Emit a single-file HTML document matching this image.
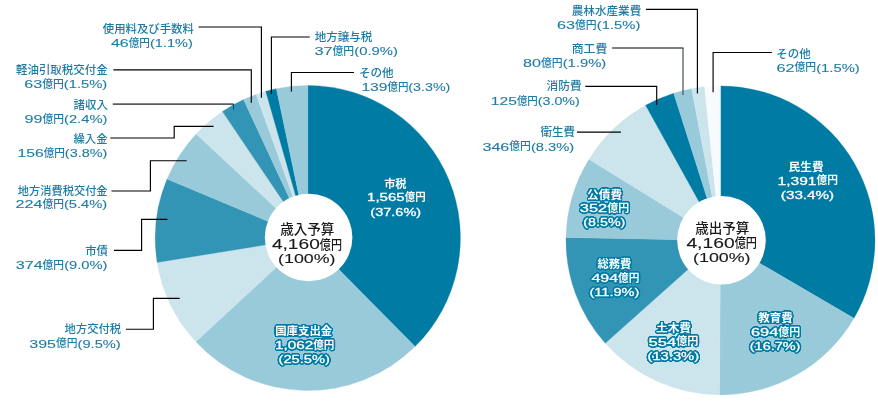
<!DOCTYPE html>
<html lang="ja"><head><meta charset="utf-8"><title>予算</title>
<style>
html,body{margin:0;padding:0;background:#fff;}
svg{display:block;font-family:"Liberation Sans", "Noto Sans CJK JP", sans-serif;font-size:11.5px;font-weight:500;}
</style></head><body>
<svg width="878" height="401" viewBox="0 0 878 401">
<defs><filter id="ol" x="-10%" y="-30%" width="120%" height="160%" color-interpolation-filters="sRGB">
<feGaussianBlur in="SourceAlpha" stdDeviation="1.0" result="b"/>
<feComponentTransfer in="b" result="t"><feFuncA type="linear" slope="30" intercept="-1.2"/></feComponentTransfer>
<feFlood flood-color="#007BA3" result="f"/><feComposite in="f" in2="t" operator="in" result="o"/>
<feMerge><feMergeNode in="o"/><feMergeNode in="SourceGraphic"/></feMerge></filter></defs>
<rect width="878" height="401" fill="#fff"/>
<path d="M307.80,238.00L307.80,85.40A152.60,152.60 0 0 1 415.02,346.58Z" fill="#007BA3" stroke="#007BA3" stroke-width="0.3"/>
<path d="M307.80,238.00L415.02,346.58A152.60,152.60 0 0 1 195.91,341.76Z" fill="#99CADA" stroke="#99CADA" stroke-width="0.3"/>
<path d="M307.80,238.00L195.91,341.76A152.60,152.60 0 0 1 157.16,262.40Z" fill="#CCE5ED" stroke="#CCE5ED" stroke-width="0.3"/>
<path d="M307.80,238.00L157.16,262.40A152.60,152.60 0 0 1 167.02,179.11Z" fill="#3395B5" stroke="#3395B5" stroke-width="0.3"/>
<path d="M307.80,238.00L167.02,179.11A152.60,152.60 0 0 1 196.20,133.93Z" fill="#99CADA" stroke="#99CADA" stroke-width="0.3"/>
<path d="M307.80,238.00L196.20,133.93A152.60,152.60 0 0 1 222.47,111.49Z" fill="#CCE5ED" stroke="#CCE5ED" stroke-width="0.3"/>
<path d="M307.80,238.00L222.47,111.49A152.60,152.60 0 0 1 243.55,99.59Z" fill="#3395B5" stroke="#3395B5" stroke-width="0.3"/>
<path d="M307.80,238.00L243.55,99.59A152.60,152.60 0 0 1 256.11,94.42Z" fill="#99CADA" stroke="#99CADA" stroke-width="0.3"/>
<path d="M307.80,238.00L256.11,94.42A152.60,152.60 0 0 1 265.74,91.31Z" fill="#CCE5ED" stroke="#CCE5ED" stroke-width="0.3"/>
<path d="M307.80,238.00L265.74,91.31A152.60,152.60 0 0 1 276.39,88.67Z" fill="#007BA3" stroke="#007BA3" stroke-width="0.3"/>
<path d="M307.80,238.00L276.39,88.67A152.60,152.60 0 0 1 307.80,85.40Z" fill="#99CADA" stroke="#99CADA" stroke-width="0.3"/>
<circle cx="308.6" cy="237.5" r="43.8" fill="#fff"/>
<path d="M720.50,240.40L720.50,85.90A154.50,154.50 0 0 1 853.98,318.21Z" fill="#007BA3" stroke="#007BA3" stroke-width="0.3"/>
<path d="M720.50,240.40L853.98,318.21A154.50,154.50 0 0 1 719.53,394.90Z" fill="#99CADA" stroke="#99CADA" stroke-width="0.3"/>
<path d="M720.50,240.40L719.53,394.90A154.50,154.50 0 0 1 605.25,343.30Z" fill="#CCE5ED" stroke="#CCE5ED" stroke-width="0.3"/>
<path d="M720.50,240.40L605.25,343.30A154.50,154.50 0 0 1 566.03,237.49Z" fill="#3395B5" stroke="#3395B5" stroke-width="0.3"/>
<path d="M720.50,240.40L566.03,237.49A154.50,154.50 0 0 1 589.02,159.26Z" fill="#99CADA" stroke="#99CADA" stroke-width="0.3"/>
<path d="M720.50,240.40L589.02,159.26A154.50,154.50 0 0 1 645.60,105.27Z" fill="#CCE5ED" stroke="#CCE5ED" stroke-width="0.3"/>
<path d="M720.50,240.40L645.60,105.27A154.50,154.50 0 0 1 673.68,93.16Z" fill="#007BA3" stroke="#007BA3" stroke-width="0.3"/>
<path d="M720.50,240.40L673.68,93.16A154.50,154.50 0 0 1 691.55,88.64Z" fill="#99CADA" stroke="#99CADA" stroke-width="0.3"/>
<path d="M720.50,240.40L691.55,88.64A154.50,154.50 0 0 1 704.62,86.72Z" fill="#CCE5ED" stroke="#CCE5ED" stroke-width="0.3"/>
<path d="M720.50,240.40L704.62,86.72A154.50,154.50 0 0 1 720.50,85.90Z" fill="#F8FBFD" stroke="#F8FBFD" stroke-width="0.3"/>
<circle cx="721.5" cy="240.3" r="44.3" fill="#fff"/>
<polyline points="198.5,27 261.4,27 261.4,97.7" fill="none" stroke="#000" stroke-width="1.15"/>
<polyline points="113.4,69.8 251.3,69.8 251.3,102.7" fill="none" stroke="#000" stroke-width="1.15"/>
<polyline points="112.8,104.1 233.5,104.1" fill="none" stroke="#5c5c5c" stroke-width="1.7"/>
<polyline points="233.5,103.8 233.5,109.5" fill="none" stroke="#0b4d68" stroke-width="1.1"/>
<polyline points="110.3,138.0 174.2,138.0 174.2,126.3 213.5,126.3" fill="none" stroke="#000" stroke-width="1.15"/>
<polyline points="111.5,191.0 150.4,191.0 150.4,160.7 186.7,160.7" fill="none" stroke="#000" stroke-width="1.15"/>
<polyline points="114,250.3 141.6,250.3 141.6,219.4 167.4,219.4" fill="none" stroke="#000" stroke-width="1.15"/>
<polyline points="125.9,329.2 153.4,329.2 153.4,298.3 179.7,298.3" fill="none" stroke="#000" stroke-width="1.15"/>
<polyline points="309.8,37 271.4,37 271.4,94" fill="none" stroke="#000" stroke-width="1.15"/>
<polyline points="354,72.5 291.4,72.5 291.4,91.5" fill="none" stroke="#000" stroke-width="1.15"/>
<polyline points="645.9,9.4 697.4,9.4 697.4,93.5" fill="none" stroke="#000" stroke-width="1.15"/>
<polyline points="612.1,48.0 683.5,48.0" fill="none" stroke="#000" stroke-width="1.15"/>
<polyline points="683,48.0 683,95" fill="none" stroke="#4d5f66" stroke-width="1.3"/>
<polyline points="585.3,86.4 656.7,86.4 656.7,105" fill="none" stroke="#000" stroke-width="1.15"/>
<polyline points="577,132.1 620.9,132.1" fill="none" stroke="#000" stroke-width="1.15"/>
<polyline points="771.9,52.5 713.1,52.5 713.1,92.3" fill="none" stroke="#000" stroke-width="1.15"/>
<text x="102.80" y="32.75" font-size="11.4" textLength="91.10" lengthAdjust="spacingAndGlyphs" fill="#1E7BA4" font-weight="500">使用料及び手数料</text>
<text fill="#1E7BA4" font-weight="500"><tspan x="111.00" y="47.00" font-size="11.5" textLength="17.73" lengthAdjust="spacingAndGlyphs" stroke="#1E7BA4" stroke-width="0.1">46</tspan><tspan x="128.72" y="46.70" font-size="11.2" textLength="21.31" lengthAdjust="spacingAndGlyphs">億円</tspan><tspan x="150.03" y="47.00" font-size="11.5" textLength="42.82" lengthAdjust="spacingAndGlyphs" stroke="#1E7BA4" stroke-width="0.1">(1.1%)</tspan></text>
<text x="16.00" y="73.85" font-size="11.4" textLength="91.60" lengthAdjust="spacingAndGlyphs" fill="#1E7BA4" font-weight="500">軽油引取税交付金</text>
<text fill="#1E7BA4" font-weight="500"><tspan x="24.19" y="88.10" font-size="11.5" textLength="17.99" lengthAdjust="spacingAndGlyphs" stroke="#1E7BA4" stroke-width="0.1">63</tspan><tspan x="42.18" y="87.80" font-size="11.2" textLength="21.63" lengthAdjust="spacingAndGlyphs">億円</tspan><tspan x="63.81" y="88.10" font-size="11.5" textLength="43.45" lengthAdjust="spacingAndGlyphs" stroke="#1E7BA4" stroke-width="0.1">(1.5%)</tspan></text>
<text x="73.60" y="108.65" font-size="11.4" textLength="34.40" lengthAdjust="spacingAndGlyphs" fill="#1E7BA4" font-weight="500">諸収入</text>
<text fill="#1E7BA4" font-weight="500"><tspan x="24.44" y="122.80" font-size="11.5" textLength="17.98" lengthAdjust="spacingAndGlyphs" stroke="#1E7BA4" stroke-width="0.1">99</tspan><tspan x="42.42" y="122.50" font-size="11.2" textLength="21.61" lengthAdjust="spacingAndGlyphs">億円</tspan><tspan x="64.03" y="122.80" font-size="11.5" textLength="43.43" lengthAdjust="spacingAndGlyphs" stroke="#1E7BA4" stroke-width="0.1">(2.4%)</tspan></text>
<text x="73.40" y="142.65" font-size="11.4" textLength="34.20" lengthAdjust="spacingAndGlyphs" fill="#1E7BA4" font-weight="500">繰入金</text>
<text fill="#1E7BA4" font-weight="500"><tspan x="17.43" y="156.80" font-size="11.5" textLength="26.33" lengthAdjust="spacingAndGlyphs" stroke="#1E7BA4" stroke-width="0.1">156</tspan><tspan x="43.76" y="156.50" font-size="11.2" textLength="21.10" lengthAdjust="spacingAndGlyphs">億円</tspan><tspan x="64.86" y="156.80" font-size="11.5" textLength="42.40" lengthAdjust="spacingAndGlyphs" stroke="#1E7BA4" stroke-width="0.1">(3.8%)</tspan></text>
<text x="17.80" y="195.25" font-size="11.4" textLength="89.80" lengthAdjust="spacingAndGlyphs" fill="#1E7BA4" font-weight="500">地方消費税交付金</text>
<text fill="#1E7BA4" font-weight="500"><tspan x="15.49" y="208.20" font-size="11.5" textLength="26.90" lengthAdjust="spacingAndGlyphs" stroke="#1E7BA4" stroke-width="0.1">224</tspan><tspan x="42.39" y="207.90" font-size="11.2" textLength="21.56" lengthAdjust="spacingAndGlyphs">億円</tspan><tspan x="63.94" y="208.20" font-size="11.5" textLength="43.32" lengthAdjust="spacingAndGlyphs" stroke="#1E7BA4" stroke-width="0.1">(5.4%)</tspan></text>
<text x="85.24" y="255.15" font-size="11.4" textLength="22.77" lengthAdjust="spacingAndGlyphs" fill="#1E7BA4" font-weight="500">市債</text>
<text fill="#1E7BA4" font-weight="500"><tspan x="15.74" y="269.10" font-size="11.5" textLength="26.88" lengthAdjust="spacingAndGlyphs" stroke="#1E7BA4" stroke-width="0.1">374</tspan><tspan x="42.62" y="268.80" font-size="11.2" textLength="21.54" lengthAdjust="spacingAndGlyphs">億円</tspan><tspan x="64.17" y="269.10" font-size="11.5" textLength="43.29" lengthAdjust="spacingAndGlyphs" stroke="#1E7BA4" stroke-width="0.1">(9.0%)</tspan></text>
<text x="64.60" y="333.45" font-size="11.4" textLength="56.55" lengthAdjust="spacingAndGlyphs" fill="#1E7BA4" font-weight="500">地方交付税</text>
<text fill="#1E7BA4" font-weight="500"><tspan x="29.24" y="347.60" font-size="11.5" textLength="26.82" lengthAdjust="spacingAndGlyphs" stroke="#1E7BA4" stroke-width="0.1">395</tspan><tspan x="56.06" y="347.30" font-size="11.2" textLength="21.50" lengthAdjust="spacingAndGlyphs">億円</tspan><tspan x="77.56" y="347.60" font-size="11.5" textLength="43.20" lengthAdjust="spacingAndGlyphs" stroke="#1E7BA4" stroke-width="0.1">(9.5%)</tspan></text>
<text x="314.70" y="41.00" font-size="11.4" textLength="57.65" lengthAdjust="spacingAndGlyphs" fill="#1E7BA4" font-weight="500">地方譲与税</text>
<text fill="#1E7BA4" font-weight="500"><tspan x="314.45" y="55.20" font-size="11.5" textLength="18.06" lengthAdjust="spacingAndGlyphs" stroke="#1E7BA4" stroke-width="0.1">37</tspan><tspan x="332.51" y="54.90" font-size="11.2" textLength="21.72" lengthAdjust="spacingAndGlyphs">億円</tspan><tspan x="354.22" y="55.20" font-size="11.5" textLength="43.63" lengthAdjust="spacingAndGlyphs" stroke="#1E7BA4" stroke-width="0.1">(0.9%)</tspan></text>
<text x="358.93" y="77.00" font-size="11.4" textLength="34.79" lengthAdjust="spacingAndGlyphs" fill="#1E7BA4" font-weight="500">その他</text>
<text fill="#1E7BA4" font-weight="500"><tspan x="361.44" y="90.80" font-size="11.5" textLength="26.06" lengthAdjust="spacingAndGlyphs" stroke="#1E7BA4" stroke-width="0.1">139</tspan><tspan x="387.50" y="90.50" font-size="11.2" textLength="20.89" lengthAdjust="spacingAndGlyphs">億円</tspan><tspan x="408.39" y="90.80" font-size="11.5" textLength="41.97" lengthAdjust="spacingAndGlyphs" stroke="#1E7BA4" stroke-width="0.1">(3.3%)</tspan></text>
<text x="571.74" y="14.65" font-size="11.4" textLength="69.51" lengthAdjust="spacingAndGlyphs" fill="#1E7BA4" font-weight="500">農林水産業費</text>
<text fill="#1E7BA4" font-weight="500"><tspan x="556.99" y="29.10" font-size="11.5" textLength="18.05" lengthAdjust="spacingAndGlyphs" stroke="#1E7BA4" stroke-width="0.1">63</tspan><tspan x="575.04" y="28.80" font-size="11.2" textLength="21.70" lengthAdjust="spacingAndGlyphs">億円</tspan><tspan x="596.75" y="29.10" font-size="11.5" textLength="43.61" lengthAdjust="spacingAndGlyphs" stroke="#1E7BA4" stroke-width="0.1">(1.5%)</tspan></text>
<text x="571.78" y="52.75" font-size="11.4" textLength="35.49" lengthAdjust="spacingAndGlyphs" fill="#1E7BA4" font-weight="500">商工費</text>
<text fill="#1E7BA4" font-weight="500"><tspan x="522.94" y="67.10" font-size="11.5" textLength="18.04" lengthAdjust="spacingAndGlyphs" stroke="#1E7BA4" stroke-width="0.1">80</tspan><tspan x="540.98" y="66.80" font-size="11.2" textLength="21.69" lengthAdjust="spacingAndGlyphs">億円</tspan><tspan x="562.67" y="67.10" font-size="11.5" textLength="43.58" lengthAdjust="spacingAndGlyphs" stroke="#1E7BA4" stroke-width="0.1">(1.9%)</tspan></text>
<text x="546.44" y="90.45" font-size="11.4" textLength="35.22" lengthAdjust="spacingAndGlyphs" fill="#1E7BA4" font-weight="500">消防費</text>
<text fill="#1E7BA4" font-weight="500"><tspan x="490.83" y="105.10" font-size="11.5" textLength="26.06" lengthAdjust="spacingAndGlyphs" stroke="#1E7BA4" stroke-width="0.1">125</tspan><tspan x="516.90" y="104.80" font-size="11.2" textLength="20.89" lengthAdjust="spacingAndGlyphs">億円</tspan><tspan x="537.79" y="105.10" font-size="11.5" textLength="41.97" lengthAdjust="spacingAndGlyphs" stroke="#1E7BA4" stroke-width="0.1">(3.0%)</tspan></text>
<text x="540.40" y="136.45" font-size="11.4" textLength="34.86" lengthAdjust="spacingAndGlyphs" fill="#1E7BA4" font-weight="500">衛生費</text>
<text fill="#1E7BA4" font-weight="500"><tspan x="482.45" y="150.70" font-size="11.5" textLength="26.91" lengthAdjust="spacingAndGlyphs" stroke="#1E7BA4" stroke-width="0.1">346</tspan><tspan x="509.35" y="150.40" font-size="11.2" textLength="21.57" lengthAdjust="spacingAndGlyphs">億円</tspan><tspan x="530.92" y="150.70" font-size="11.5" textLength="43.34" lengthAdjust="spacingAndGlyphs" stroke="#1E7BA4" stroke-width="0.1">(8.3%)</tspan></text>
<text x="776.23" y="57.75" font-size="11.4" textLength="34.38" lengthAdjust="spacingAndGlyphs" fill="#1E7BA4" font-weight="500">その他</text>
<text fill="#1E7BA4" font-weight="500"><tspan x="776.49" y="71.60" font-size="11.5" textLength="18.03" lengthAdjust="spacingAndGlyphs" stroke="#1E7BA4" stroke-width="0.1">62</tspan><tspan x="794.52" y="71.30" font-size="11.2" textLength="21.68" lengthAdjust="spacingAndGlyphs">億円</tspan><tspan x="816.20" y="71.60" font-size="11.5" textLength="43.56" lengthAdjust="spacingAndGlyphs" stroke="#1E7BA4" stroke-width="0.1">(1.5%)</tspan></text>
<text x="384.15" y="187.65" font-size="11.4" textLength="22.41" lengthAdjust="spacingAndGlyphs" fill="#fff" filter="url(#ol)" font-weight="700">市税</text>
<text fill="#fff" filter="url(#ol)" font-weight="700"><tspan x="367.02" y="201.20" font-size="11.5" textLength="37.74" lengthAdjust="spacingAndGlyphs" font-weight="400" stroke="#fff" stroke-width="0.3">1,565</tspan><tspan x="404.76" y="200.90" font-size="11.2" textLength="20.81" lengthAdjust="spacingAndGlyphs">億円</tspan></text>
<text x="370.38" y="215.50" font-size="11.5" textLength="50.79" lengthAdjust="spacingAndGlyphs" fill="#fff" filter="url(#ol)" font-weight="400" stroke="#fff" stroke-width="0.3">(37.6%)</text>
<text x="275.20" y="335.35" font-size="11.4" textLength="57.06" lengthAdjust="spacingAndGlyphs" fill="#fff" filter="url(#ol)" font-weight="700">国庫支出金</text>
<text fill="#fff" filter="url(#ol)" font-weight="700"><tspan x="274.93" y="348.90" font-size="11.5" textLength="38.24" lengthAdjust="spacingAndGlyphs" font-weight="400" stroke="#fff" stroke-width="0.3">1,062</tspan><tspan x="313.17" y="348.60" font-size="11.2" textLength="21.09" lengthAdjust="spacingAndGlyphs">億円</tspan></text>
<text x="278.58" y="363.10" font-size="11.5" textLength="51.28" lengthAdjust="spacingAndGlyphs" fill="#fff" filter="url(#ol)" font-weight="400" stroke="#fff" stroke-width="0.3">(25.5%)</text>
<text x="788.64" y="171.15" font-size="11.4" textLength="34.93" lengthAdjust="spacingAndGlyphs" fill="#fff" filter="url(#ol)" font-weight="700">民生費</text>
<text fill="#fff" filter="url(#ol)" font-weight="700"><tspan x="777.53" y="184.60" font-size="11.5" textLength="38.96" lengthAdjust="spacingAndGlyphs" font-weight="400" stroke="#fff" stroke-width="0.3">1,391</tspan><tspan x="816.48" y="184.30" font-size="11.2" textLength="21.48" lengthAdjust="spacingAndGlyphs">億円</tspan></text>
<text x="780.88" y="198.70" font-size="11.5" textLength="53.29" lengthAdjust="spacingAndGlyphs" fill="#fff" filter="url(#ol)" font-weight="400" stroke="#fff" stroke-width="0.3">(33.4%)</text>
<text x="587.14" y="198.85" font-size="11.4" textLength="34.93" lengthAdjust="spacingAndGlyphs" fill="#fff" filter="url(#ol)" font-weight="700">公債費</text>
<text fill="#fff" filter="url(#ol)" font-weight="700"><tspan x="579.74" y="212.40" font-size="11.5" textLength="27.44" lengthAdjust="spacingAndGlyphs" font-weight="400" stroke="#fff" stroke-width="0.3">352</tspan><tspan x="607.17" y="212.10" font-size="11.2" textLength="21.99" lengthAdjust="spacingAndGlyphs">億円</tspan></text>
<text x="583.38" y="226.40" font-size="11.5" textLength="41.99" lengthAdjust="spacingAndGlyphs" fill="#fff" filter="url(#ol)" font-weight="400" stroke="#fff" stroke-width="0.3">(8.5%)</text>
<text x="597.39" y="267.65" font-size="11.4" textLength="33.97" lengthAdjust="spacingAndGlyphs" fill="#fff" filter="url(#ol)" font-weight="700">総務費</text>
<text fill="#fff" filter="url(#ol)" font-weight="700"><tspan x="591.45" y="281.80" font-size="11.5" textLength="26.65" lengthAdjust="spacingAndGlyphs" font-weight="400" stroke="#fff" stroke-width="0.3">494</tspan><tspan x="618.10" y="281.50" font-size="11.2" textLength="21.36" lengthAdjust="spacingAndGlyphs">億円</tspan></text>
<text x="589.48" y="295.50" font-size="11.5" textLength="49.99" lengthAdjust="spacingAndGlyphs" fill="#fff" filter="url(#ol)" font-weight="400" stroke="#fff" stroke-width="0.3">(11.9%)</text>
<text x="655.94" y="332.05" font-size="11.4" textLength="35.12" lengthAdjust="spacingAndGlyphs" fill="#fff" filter="url(#ol)" font-weight="700">土木費</text>
<text fill="#fff" filter="url(#ol)" font-weight="700"><tspan x="648.44" y="345.50" font-size="11.5" textLength="27.77" lengthAdjust="spacingAndGlyphs" font-weight="400" stroke="#fff" stroke-width="0.3">554</tspan><tspan x="676.21" y="345.20" font-size="11.2" textLength="22.26" lengthAdjust="spacingAndGlyphs">億円</tspan></text>
<text x="647.48" y="359.60" font-size="11.5" textLength="51.68" lengthAdjust="spacingAndGlyphs" fill="#fff" filter="url(#ol)" font-weight="400" stroke="#fff" stroke-width="0.3">(13.3%)</text>
<text x="758.20" y="322.05" font-size="11.4" textLength="34.56" lengthAdjust="spacingAndGlyphs" fill="#fff" filter="url(#ol)" font-weight="700">教育費</text>
<text fill="#fff" filter="url(#ol)" font-weight="700"><tspan x="750.94" y="335.90" font-size="11.5" textLength="27.38" lengthAdjust="spacingAndGlyphs" font-weight="400" stroke="#fff" stroke-width="0.3">694</tspan><tspan x="778.32" y="335.60" font-size="11.2" textLength="21.94" lengthAdjust="spacingAndGlyphs">億円</tspan></text>
<text x="749.78" y="349.90" font-size="11.5" textLength="50.70" lengthAdjust="spacingAndGlyphs" fill="#fff" filter="url(#ol)" font-weight="400" stroke="#fff" stroke-width="0.3">(16.7%)</text>
<text x="280.14" y="233.90" font-size="13.7" textLength="54.31" lengthAdjust="spacingAndGlyphs" fill="#1a1a1a" font-weight="500">歳入予算</text>
<text fill="#1a1a1a" font-weight="500"><tspan x="271.90" y="249.40" font-size="14.6" textLength="47.92" lengthAdjust="spacingAndGlyphs" stroke="#1a1a1a" stroke-width="0.12">4,160</tspan><tspan x="319.82" y="248.80" font-size="12.8" textLength="22.13" lengthAdjust="spacingAndGlyphs">億円</tspan></text>
<text x="278.12" y="262.80" font-size="13.5" textLength="57.40" lengthAdjust="spacingAndGlyphs" fill="#1a1a1a" font-weight="500" stroke="#1a1a1a" stroke-width="0.12">(100%)</text>
<text x="695.14" y="233.10" font-size="13.7" textLength="54.31" lengthAdjust="spacingAndGlyphs" fill="#1a1a1a" font-weight="500">歳出予算</text>
<text fill="#1a1a1a" font-weight="500"><tspan x="686.40" y="247.90" font-size="14.6" textLength="48.27" lengthAdjust="spacingAndGlyphs" stroke="#1a1a1a" stroke-width="0.12">4,160</tspan><tspan x="734.66" y="247.30" font-size="12.8" textLength="22.29" lengthAdjust="spacingAndGlyphs">億円</tspan></text>
<text x="693.12" y="262.10" font-size="13.5" textLength="57.40" lengthAdjust="spacingAndGlyphs" fill="#1a1a1a" font-weight="500" stroke="#1a1a1a" stroke-width="0.12">(100%)</text>
</svg>
</body></html>
